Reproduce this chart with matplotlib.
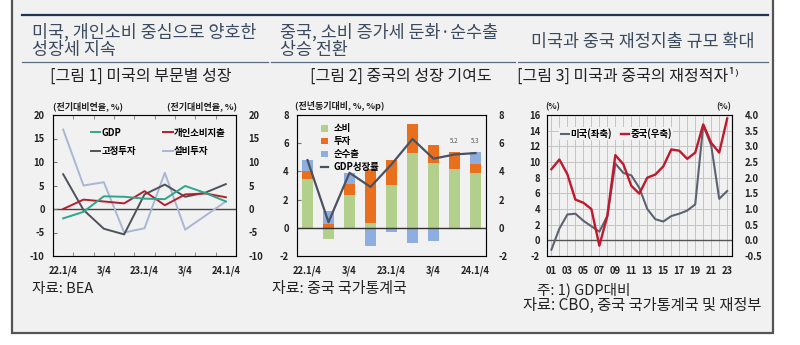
import matplotlib
matplotlib.use("Agg")
import matplotlib.pyplot as plt
from matplotlib.patches import Rectangle
from matplotlib.lines import Line2D
from matplotlib.ticker import MultipleLocator, FixedLocator
import numpy as np

plt.rcParams["font.family"] = ["Noto Sans CJK KR", "DejaVu Sans"]
plt.rcParams["axes.unicode_minus"] = False

# {{{ data
quarters = ["22.1/4", "", "3/4", "", "23.1/4", "", "3/4", "", "24.1/4"]
us_gdp = [-2.0, -0.6, 2.7, 2.6, 2.2, 2.1, 4.9, 3.4, 1.6]
us_pce = [0.0, 2.0, 1.6, 1.2, 3.8, 0.8, 3.1, 3.3, 2.5]
us_fixed = [7.4, -0.2, -4.2, -5.4, 3.1, 5.2, 2.6, 3.5, 5.3]
us_equip = [16.9, 5.0, 5.7, -5.0, -4.1, 7.7, -4.4, -1.4, 1.6]

cn_cons = [3.45, -0.8, 2.3, 0.35, 3.05, 5.3, 4.6, 4.15, 3.9]
cn_inv = [0.55, 0.3, 0.8, 3.8, 1.75, 2.05, 1.25, 1.2, 0.65]
cn_netx = [0.8, 0.9, 0.8, -1.3, -0.3, -1.05, -0.95, -0.1, 0.8]
cn_gdp = [4.8, 0.4, 3.9, 2.9, 4.5, 6.3, 4.9, 5.2, 5.3]
cn_gdp_notes = {7: "5.2", 8: "5.3"}

years = list(range(2001, 2024))
us_deficit = [-1.2, 1.5, 3.3, 3.4, 2.5, 1.8, 1.1, 3.1, 9.8, 8.6, 8.3, 6.7,
              4.0, 2.7, 2.4, 3.1, 3.4, 3.8, 4.6, 14.7, 12.1, 5.3, 6.3]
cn_deficit = [2.27, 2.58, 2.11, 1.30, 1.20, 1.00, -0.17, 0.78, 2.72, 2.43,
              1.74, 1.49, 2.00, 2.10, 2.36, 2.90, 2.86, 2.60, 2.80, 3.70,
              3.11, 2.80, 3.89]
# }}}

BG = "#f1f1f1"
HEAD = "#3b4a5e"
TICK_KW = dict(fontsize=6.8, fontweight="bold", color="#222222")

fig = plt.figure(figsize=(8.0, 3.45), dpi=100)
fig.patch.set_facecolor("white")


def fx(x):
    return x / 800


def fy(y):
    return 1 - y / 345


def axes_px(x0, x1, y0, y1):
    return fig.add_axes([fx(x0), fy(y1), fx(x1) - fx(x0), fy(y0) - fy(y1)])


# {{{ frame, headers
fig.patches.append(Rectangle((fx(12), fy(333)), fx(773) - fx(12), 1.2,
                             transform=fig.transFigure, facecolor=BG,
                             edgecolor="#555555", lw=1.6, zorder=-10))
fig.add_artist(Line2D([fx(22), fx(768)], [fy(15), fy(15)], color="#1f3556",
                      lw=1.6))
for a, b in [(22, 268), (271, 515), (518, 768)]:
    fig.add_artist(Line2D([fx(a), fx(b)], [fy(62), fy(62)], color="#5b6b80",
                          lw=0.9))

fig.text(fx(32), fy(41), "미국, 개인소비 중심으로 양호한\n성장세 지속",
         fontsize=12.5, color=HEAD, va="center", linespacing=1.0)
fig.text(fx(280), fy(41), "중국, 소비 증가세 둔화·순수출\n상승 전환",
         fontsize=12.5, color=HEAD, va="center", linespacing=1.0)
fig.text(fx(643), fy(42), "미국과 중국 재정지출 규모 확대",
         fontsize=12.5, color=HEAD, va="center", ha="center")

fig.text(fx(141), fy(76), "[그림 1] 미국의 부문별 성장", fontsize=11.5,
         color="#222222", ha="center", va="center")
fig.text(fx(401), fy(76), "[그림 2] 중국의 성장 기여도", fontsize=11.5,
         color="#222222", ha="center", va="center")
fig.text(fx(517), fy(76), "[그림 3] 미국과 중국의 재정적자¹⁾", fontsize=11.5,
         color="#222222", ha="left", va="center")
# }}}


def style_box(ax):
    ax.set_facecolor(BG)
    for s in ax.spines.values():
        s.set_color("#777777")
        s.set_linewidth(0.8)


# {{{ chart 1: US growth by sector
ax1 = axes_px(53, 236, 115, 256)
style_box(ax1)
x = np.arange(len(quarters))
ax1.plot(x, us_equip, color="#a9b7d4", lw=1.4, label="설비투자")
ax1.plot(x, us_fixed, color="#4d525a", lw=1.4, label="고정투자")
ax1.plot(x, us_pce, color="#b3202c", lw=1.4, label="개인소비지출")
ax1.plot(x, us_gdp, color="#2fa58c", lw=1.4, label="GDP")
ax1.axhline(0, color="#444444", lw=1.0, zorder=1)
ax1.set_xlim(-0.5, len(quarters) - 0.5)
ax1.set_ylim(-10, 20)
ax1.set_yticks(range(-10, 21, 5))
ax1.set_xticks(x[::2])
ax1.set_xticklabels(quarters[::2])
ax1.xaxis.set_minor_locator(FixedLocator(np.arange(-0.5, len(quarters), 1)))
ax1.tick_params(axis="x", which="major", length=0, pad=7)
ax1.tick_params(axis="x", which="minor", direction="in", length=3,
                top=True, bottom=True, color="#777777")
ax1.tick_params(axis="y", direction="in", length=3, left=True, right=True,
                pad=6, color="#777777")
for lab in ax1.get_xticklabels() + ax1.get_yticklabels():
    lab.set(**TICK_KW)
r1 = ax1.twinx()
r1.set_ylim(ax1.get_ylim())
r1.set_yticks(range(-10, 21, 5))
r1.tick_params(axis="y", length=0, pad=9)
for lab in r1.get_yticklabels():
    lab.set(**TICK_KW)
handles = {l.get_label(): l for l in ax1.get_lines()}
order = ["GDP", "고정투자", "개인소비지출", "설비투자"]
ax1.legend([handles[k] for k in order], order,
           ncol=2, loc="upper left", bbox_to_anchor=(0.16, 0.97),
           frameon=False, handlelength=1.0, handletextpad=0.1,
           columnspacing=2.9, labelspacing=0.9,
           prop=dict(size=6.8, weight="bold"))
fig.text(fx(53), fy(106), "(전기대비연율, %)", fontsize=6.5,
         fontweight="bold", va="center", ha="left", color="#222222")
fig.text(fx(237), fy(106), "(전기대비연율, %)", fontsize=6.5,
         fontweight="bold", va="center", ha="right", color="#222222")
fig.text(fx(32), fy(289), "자료: BEA", fontsize=10.5, va="center",
         color="#222222")
# }}}

# {{{ chart 2: China growth contributions
ax2 = axes_px(297, 486, 115, 256)
style_box(ax2)
x = np.arange(len(cn_gdp))
pos = np.zeros(len(x))
neg = np.zeros(len(x))
bar_handles = []
for vals, col, lab in [(cn_cons, "#b3cf8c", "소비"),
                       (cn_inv, "#e96f1c", "투자"),
                       (cn_netx, "#8eaee0", "순수출")]:
    v = np.array(vals)
    bottom = np.where(v >= 0, pos, neg)
    bars = ax2.bar(x, v, bottom=bottom, width=0.53, color=col, label=lab,
                   zorder=2)
    bar_handles.append(bars)
    pos = np.where(v >= 0, pos + v, pos)
    neg = np.where(v < 0, neg + v, neg)
(gdp_line,) = ax2.plot(x, cn_gdp, color="#4a5262", lw=1.6, zorder=4,
                       label="GDP성장률")
for i, t in cn_gdp_notes.items():
    ax2.text(x[i], 5.85, t, fontsize=4.5, color="#555555", ha="center",
             va="bottom", zorder=5)
ax2.axhline(0, color="#333333", lw=1.0, zorder=3)
ax2.set_xlim(-0.5, len(x) - 0.5)
ax2.set_ylim(-2, 8)
ax2.set_yticks(range(-2, 9, 2))
ax2.set_xticks(x[::2])
ax2.set_xticklabels(quarters[::2])
ax2.tick_params(axis="x", which="major", length=0, pad=7)
ax2.tick_params(axis="y", direction="in", length=3, left=True, right=True,
                pad=6, color="#777777")
for lab in ax2.get_xticklabels() + ax2.get_yticklabels():
    lab.set(**TICK_KW)
r2 = ax2.twinx()
r2.set_ylim(ax2.get_ylim())
r2.set_yticks(range(-2, 9, 2))
r2.tick_params(axis="y", length=0, pad=9)
for lab in r2.get_yticklabels():
    lab.set(**TICK_KW)
ax2.legend(bar_handles + [gdp_line], ["소비", "투자", "순수출", "GDP성장률"],
           loc="upper left", bbox_to_anchor=(0.08, 1.0), frameon=False,
           handlelength=0.8, handleheight=0.7, handletextpad=0.6,
           labelspacing=0.3, prop=dict(size=6.8, weight="bold"))
fig.text(fx(295), fy(106), "(전년동기대비, %, %p)", fontsize=6.5,
         fontweight="bold", va="center", ha="left", color="#222222")
fig.text(fx(272), fy(289), "자료: 중국 국가통계국", fontsize=10.8, va="center",
         color="#222222")
# }}}

# {{{ chart 3: fiscal deficits
ax3 = axes_px(547, 732, 115, 256)
style_box(ax3)
ax3.plot(years, us_deficit, color="#5c6370", lw=1.5, zorder=3)
ax3.set_xlim(2000.45, 2023.6)
ax3.set_ylim(-2, 16)
ax3.set_yticks(range(-2, 17, 2))
ax3.set_xticks(years[::2])
ax3.set_xticklabels([f"{y % 100:02d}" for y in years[::2]])
ax3.xaxis.set_minor_locator(MultipleLocator(1))
ax3.grid(True, which="both", axis="x", color="#c4c4c4", lw=0.7)
ax3.grid(True, which="major", axis="y", color="#c4c4c4", lw=0.7)
ax3.set_axisbelow(True)
ax3.axhline(0, color="#555555", lw=1.0, zorder=2)
ax3.tick_params(axis="both", which="both", length=0)
ax3.tick_params(axis="x", pad=7)
ax3.tick_params(axis="y", pad=5)
for lab in ax3.get_xticklabels() + ax3.get_yticklabels():
    lab.set(**TICK_KW)
r3 = ax3.twinx()
r3.plot(years, cn_deficit, color="#c0182c", lw=1.7, zorder=3)
r3.set_ylim(-0.5, 4.0)
r3.set_yticks(np.arange(-0.5, 4.01, 0.5))
r3.set_yticklabels([f"{v:.1f}" for v in np.arange(-0.5, 4.01, 0.5)])
r3.tick_params(axis="y", length=0, pad=9)
for lab in r3.get_yticklabels():
    lab.set(**TICK_KW)
leg = r3.legend([Line2D([], [], color="#5c6370", lw=1.5),
                 Line2D([], [], color="#c0182c", lw=1.7)],
                ["미국(좌축)", "중국(우축)"], ncol=2, loc="upper left",
                bbox_to_anchor=(0.04, 0.95), frameon=True,
                handlelength=0.9, handletextpad=0.1, columnspacing=1.0,
                borderpad=0.15, prop=dict(size=6.8, weight="bold"))
leg.get_frame().set_facecolor(BG)
leg.get_frame().set_edgecolor("none")
leg.get_frame().set_alpha(1)
fig.text(fx(553), fy(107), "(%)", fontsize=6.3, fontweight="bold",
         va="center", ha="center", color="#222222")
fig.text(fx(724), fy(107), "(%)", fontsize=6.3, fontweight="bold",
         va="center", ha="center", color="#222222")
fig.text(fx(537), fy(290), "주: 1) GDP대비", fontsize=10.5, va="center",
         color="#222222")
fig.text(fx(523), fy(305), "자료: CBO, 중국 국가통계국 및 재정부", fontsize=11,
         va="center", color="#222222")
# }}}

fig.savefig("out.png", dpi=100, facecolor="white")
